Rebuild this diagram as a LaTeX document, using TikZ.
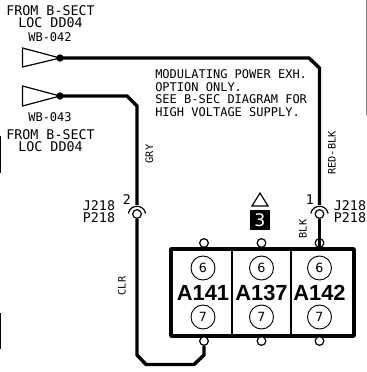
\documentclass[tikz,border=0pt]{standalone}
\usepackage{fontspec}
\setmainfont{DejaVu Sans Mono}
\newfontfamily\labelfont{Liberation Sans}
\newfontfamily\digitfont{DejaVu Sans}
\tikzset{
    wire/.style={line width=2.6pt, line join=miter},
    source/.style={line width=0.9pt},
    dot/.style={circle, fill=black, inner sep=0pt, minimum size=5.5pt},
    pin/.style={circle, draw, fill=white, line width=0.9pt, inner sep=0pt, minimum size=6.5pt},
    pinopen/.style={circle, draw, line width=0.9pt, inner sep=0pt, minimum size=6.5pt},
    socket/.style={circle, draw, line width=0.7pt, inner sep=0pt, minimum size=18pt, font=\digitfont\fontsize{9.5}{10}\selectfont},
    modname/.style={font=\labelfont\bfseries\fontsize{16.4}{17}\selectfont},
    tag/.style={font=\fontsize{10}{9.5}\selectfont, align=center},
    small/.style={font=\fontsize{9}{9}\selectfont, align=center},
    colour/.style={rotate=90, font=\fontsize{7.7}{8}\selectfont}
}
\begin{document}
\begin{tikzpicture}[x=0.75pt, y=-0.75pt]
    \useasboundingbox (0,0) rectangle (367,372);

    % Margin rules
    \draw[line width=0.8pt] (0.4,136) -- (0.4,173);
    \draw[line width=0.8pt] (0.4,313) -- (0.4,349);
    \draw[gray, line width=0.8pt] (366.5,0) -- (366.5,115);

    % Module block
    \draw[line width=2.8pt, line join=round] (171,249) rectangle (354,336);
    \draw[line width=1.8pt] (232,249) -- (232,336);
    \draw[line width=1.8pt] (291,249) -- (291,336);
    \coordinate (entryR) at (319.5,249);
    \foreach \name/\x/\lab in {a/203/A141, b/261.5/A137, c/319.5/A142} {
        \node[socket] (up\name) at (\x,268) {6};
        \node[socket] (low\name) at (\x,317) {7};
        \node[modname] (mod\name) at (\x,293) {\lab};
    }
    \node[pin] (topa) at (204,243) {};
    \node[pin] (topb) at (261.5,243) {};
    \node[pinopen] (topc) at (319.5,243) {};
    \node[pin] (bota) at (204,341) {};
    \node[pin] (botb) at (261.5,341) {};
    \node[pin] (botc) at (319.5,341) {};

    % Sources
    \node[dot] (srcA) at (60,58) {};
    \node[dot] (srcB) at (60,96) {};
    \draw[source] (srcA.center) -- (22.5,48) -- (22.5,67) -- cycle;
    \draw[source] (srcB.center) -- (22.5,86) -- (22.5,106) -- cycle;
    \node[tag] (fromA) at (50.5,16.5) {FROM B-SECT\\LOC DD04};
    \node[small] (wbA) at (50,37) {WB-042};
    \node[small] (wbB) at (50,117) {WB-043};
    \node[tag] (fromB) at (50.5,140.5) {FROM B-SECT\\LOC DD04};

    % Jacks
    \node[pin] (jackL) at (137,214) {};
    \node[pin] (jackR) at (319.5,214) {};
    \foreach \jack in {jackL, jackR}
        \draw[line width=0.9pt] ([shift={(-8.7,-0.5)}]\jack.center) arc[start angle=170, end angle=10, radius=6.6pt];
    \coordinate (capL) at (137,205);
    \coordinate (capR) at (319.5,205);
    \node[tag] (jackLtext) at (99,211.5) {J218\\P218};
    \node[tag] (jackRtext) at (350,211.5) {J218\\P218};
    \node[font=\fontsize{10}{10}\selectfont] (numL) at (127,200) {2};
    \node[font=\fontsize{10}{10}\selectfont] (numR) at (310,200) {1};

    % Wires
    \draw[wire] (srcA.center) -- (309,58) -- (319.5,68) -- (capR);
    \draw[wire] (srcB.center) -- (127,96) -- (137,106) -- (capL);
    \draw[wire] (jackR) -- (entryR);
    \draw[wire] (jackL) -- (137,355) -- (146,364.5) -- (194,364.5) -- (204,355) -- (bota);

    % Wire colours
    \node[colour] (gry) at (149.5,154) {GRY};
    \node[colour] (redblk) at (332,153) {RED-BLK};
    \node[colour] (clr) at (122,286) {CLR};
    \node[colour] (blk) at (303,229) {BLK};

    % Note
    \node[small, align=left, anchor=north west, inner sep=0pt, font=\fontsize{9}{9.4}\selectfont] (note) at (155,69.5)
        {MODULATING POWER EXH.\\OPTION ONLY.\\SEE B-SEC DIAGRAM FOR\\HIGH VOLTAGE SUPPLY.};

    % Flag
    \draw[line width=0.9pt] (252,206) -- (260,193) -- (268,206) -- cycle;
    \node[fill=black, text=white, minimum size=15pt, inner sep=0pt, font=\digitfont\fontsize{13}{13}\selectfont] (flag) at (260,220) {3};
\end{tikzpicture}
\end{document}
